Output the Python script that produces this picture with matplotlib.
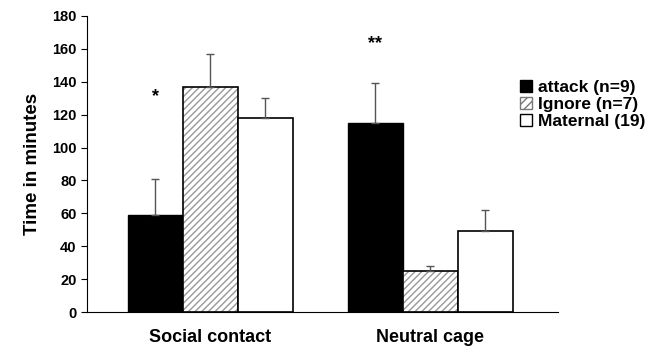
import matplotlib.pyplot as plt
import numpy as np
from matplotlib.patches import Patch

plt.rcParams['font.family'] = ['Liberation Sans', 'DejaVu Sans']
plt.rcParams['font.weight'] = 'bold'
plt.rcParams['axes.labelweight'] = 'bold'
plt.rcParams['hatch.linewidth'] = 1.0

# dados
groups = ['Social contact', 'Neutral cage']
series = ['attack (n=9)', 'Ignore (n=7)', 'Maternal (19)']
attack = [59, 115]
attack_err = [22, 24]
ignore = [137, 25]
ignore_err = [20, 3]
maternal = [118, 49]
maternal_err = [12, 13]
yticks = list(range(0, 181, 20))
stars = ['*', '**']
star_y = [131, 163]

fig = plt.figure(figsize=(6.6, 3.55), dpi=100)
ax = fig.add_axes([0.132, 0.121, 0.713, 0.834])

x = np.arange(len(groups))
w = 0.25
ekw = dict(ecolor='#555555', elinewidth=1.0, capsize=3, capthick=1.0)

ax.bar(x - w, attack, w, color='black', edgecolor='black', lw=1,
       yerr=[np.zeros(2), attack_err], error_kw=ekw)
# hachura cinza, contorno preto por cima
ax.bar(x, ignore, w, color='white', edgecolor='#999999', hatch='/////', lw=0,
       yerr=[np.zeros(2), ignore_err], error_kw=ekw)
ax.bar(x, ignore, w, fill=False, edgecolor='black', lw=1.2)
ax.bar(x + w, maternal, w, color='white', edgecolor='black', lw=1.2,
       yerr=[np.zeros(2), maternal_err], error_kw=ekw)

for i, s in enumerate(stars):
    ax.text(x[i] - w, star_y[i], s, ha='center', va='center', fontsize=13,
            fontweight='bold')

ax.set_xlim(-0.561, 1.58)
ax.set_ylim(0, 180)
ax.set_yticks(yticks)
ax.set_yticklabels([str(t) for t in yticks], fontsize=10.5, fontweight='bold')
ax.set_xticks(x)
ax.set_xticklabels(groups, fontsize=13, fontweight='bold')
ax.tick_params(axis='x', length=0, pad=12)
ax.tick_params(axis='y', length=4, direction='out')
ax.set_ylabel('Time in minutes', fontsize=13.5, fontweight='bold', labelpad=8)

for sp in ['top', 'right']:
    ax.spines[sp].set_visible(False)

handles = [Patch(facecolor='black', edgecolor='black'),
           Patch(facecolor='white', edgecolor='#777777', hatch='////'),
           Patch(facecolor='white', edgecolor='black')]
leg = fig.legend(handles, series, loc='upper left', bbox_to_anchor=(0.775, 0.80),
                 frameon=False, fontsize=12.5, handlelength=0.7, handleheight=0.7,
                 handletextpad=0.3, labelspacing=0.12, borderpad=0)
for t in leg.get_texts():
    t.set_fontweight('bold')

fig.savefig('out.png', dpi=100)
